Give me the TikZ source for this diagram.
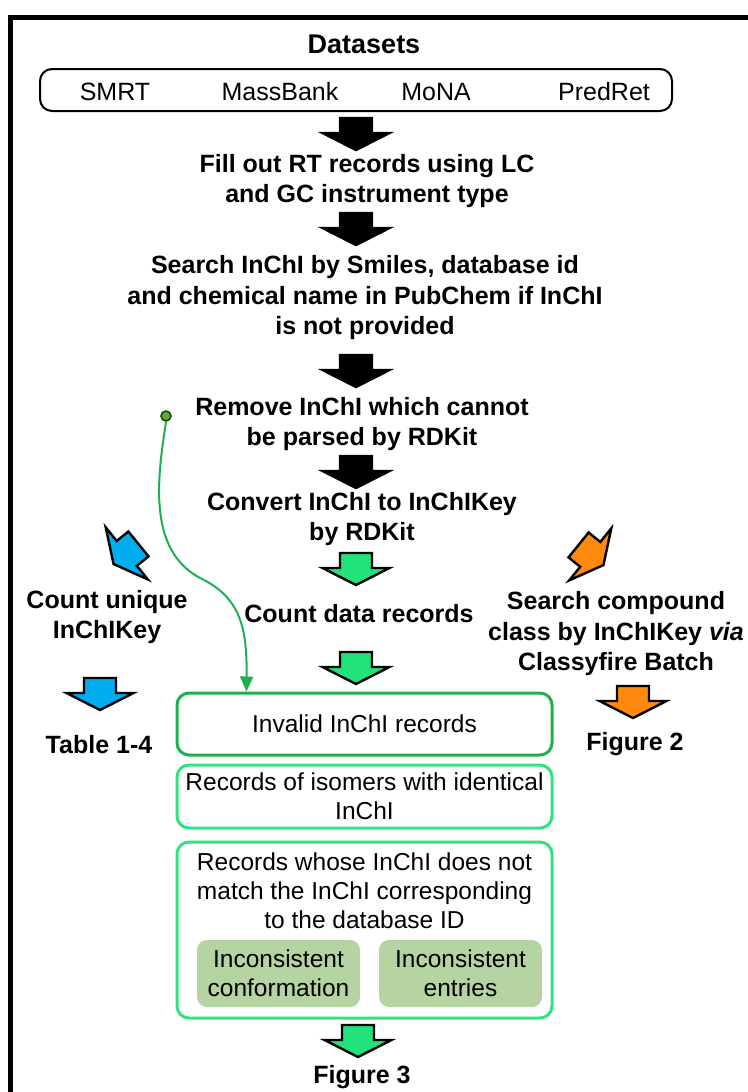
\documentclass[tikz,border=0pt]{standalone}
\usepackage{fontspec}
\setmainfont{Liberation Sans}
\usetikzlibrary{arrows.meta}

\definecolor{arrowgreen}{HTML}{22E27A}
\definecolor{boxgreen}{HTML}{2FE37F}
\definecolor{darkgreen}{HTML}{1FB04E}
\definecolor{subfill}{HTML}{B5D4A1}
\definecolor{arrowblue}{HTML}{00AEEF}
\definecolor{arroworange}{HTML}{FF8A0D}
\definecolor{dotgreen}{HTML}{6BA53A}

\begin{document}
\begin{tikzpicture}[x=1pt,y=-1pt,
	flowtext/.style={font=\fontsize{25}{30.5}\selectfont\bfseries,align=center,inner sep=0pt},
	plaintext/.style={font=\fontsize{24.5}{29}\selectfont,align=center,inner sep=0pt},
	recbox/.style={draw=boxgreen,line width=3pt,rounded corners=12pt,minimum width=375pt,inner sep=0pt},
	subbox/.style={plaintext,fill=subfill,rounded corners=10pt,minimum width=163pt,minimum height=67pt},
	curve/.style={darkgreen,line width=2pt,-{Triangle[length=15pt,width=13pt]}},
	pics/blockarrow/.style={code={
		\draw[fill=#1,line width=2.4pt,line join=miter]
			(-16,-16) -- (16,-16) -- (16,-1) -- (33.5,-1) -- (0,16) -- (-33.5,-1) -- (-16,-1) -- cycle;
	}}]
	\useasboundingbox (0,0) rectangle (747,1092);
	\draw[line width=5pt,line join=miter] (10.5,1120) -- (10.5,17.5) -- (780,17.5);

	% sources
	\node[flowtext,font=\fontsize{27}{30}\selectfont\bfseries] (title) at (364,44) {Datasets};
	\node[draw,line width=2pt,rounded corners=12pt,minimum width=632pt,minimum height=42pt] (datasets) at (356,90) {};
	\node[plaintext,font=\fontsize{25}{29}\selectfont] (smrt) at (115,92) {SMRT};
	\node[plaintext,font=\fontsize{25}{29}\selectfont] (massbank) at (280,92) {MassBank};
	\node[plaintext,font=\fontsize{25}{29}\selectfont] (mona) at (436,92) {MoNA};
	\node[plaintext,font=\fontsize{25}{29}\selectfont] (predret) at (604,92) {PredRet};

	% processing steps
	\node[flowtext] (fillout) at (367,181) {Fill out RT records using LC\\and GC instrument type};
	\node[flowtext] (searchinchi) at (365,298) {Search InChI by Smiles, database id\\and chemical name in PubChem if InChI\\is not provided};
	\node[flowtext] (remove) at (362,424) {Remove InChI which cannot\\be parsed by RDKit};
	\node[flowtext] (convert) at (362,519) {Convert InChI to InChIKey\\by RDKit};
	\node[flowtext] (countrecords) at (359,614) {Count data records};
	\node[flowtext] (countunique) at (107,617) {Count unique\\InChIKey};
	\node[flowtext] (searchclass) at (616,634) {Search compound\\class by InChIKey \textit{via}\\Classyfire Batch};
	\node[flowtext] (table) at (99,745) {Table 1-4};
	\node[flowtext] (figtwo) at (635,744) {Figure 2};
	\node[flowtext] (figthree) at (362,1077) {Figure 3};

	\pic at (356,134) {blockarrow=black};
	\pic at (356,229) {blockarrow=black};
	\pic at (356,371) {blockarrow=black};
	\pic at (356,472) {blockarrow=black};
	\pic at (356,569) {blockarrow=arrowgreen};
	\pic at (356,668) {blockarrow=arrowgreen};
	\pic at (358,1041) {blockarrow=arrowgreen};
	\pic[rotate=-51] at (126,554) {blockarrow=arrowblue};
	\pic at (100,694) {blockarrow=arrowblue};
	\pic[rotate=51] at (591,555) {blockarrow=arroworange};
	\pic at (633,702) {blockarrow=arroworange};

	% record groups
	\node[recbox,draw=darkgreen,minimum height=62pt,plaintext] (invalid) at (364.5,724) {Invalid InChI records};
	\node[recbox,minimum height=63pt,plaintext] (isomers) at (364.5,796.5) {Records of isomers with identical\\InChI};
	\node[recbox,minimum height=176pt] (mismatch) at (364.5,930) {};
	\node[plaintext] (mismatchtext) at (364.5,891) {Records whose InChI does not\\match the InChI corresponding\\to the database ID};
	\node[subbox] (conformation) at (278.5,973.5) {Inconsistent\\conformation};
	\node[subbox] (entries) at (460.5,973.5) {Inconsistent\\entries};

	\node[circle,fill=dotgreen,draw=black!70!green,line width=1.5pt,minimum size=10pt,inner sep=0pt] (dot) at (166,416) {};
	\draw[curve] (dot.south) .. controls (157,480) and (148,550) .. (200,578)
		.. controls (242,598) and (247,630) .. ([xshift=71pt]invalid.north west);
\end{tikzpicture}
\end{document}
